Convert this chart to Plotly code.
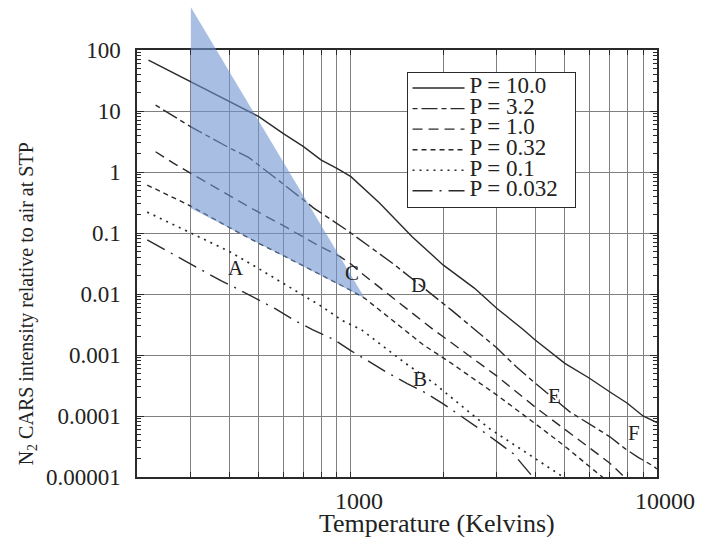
import numpy as np
import plotly.graph_objects as go

# ---------------- data ----------------
pressures = ["10.0", "3.2", "1.0", "0.32", "0.1", "0.032"]

T_p10 = [218, 300, 400, 500, 600, 700, 800, 900, 1000, 1240, 1585, 2000, 2530, 3000,
         3660, 4000, 5000, 6000, 7000, 8000, 9000, 10000]
I_p10 = [68, 30, 14.2, 8.1, 4.3, 2.6, 1.57, 1.15, 0.84, 0.31, 0.087, 0.03, 0.0125, 0.0058,
         0.0026, 0.00176, 0.00073, 0.00042, 0.00025, 0.000162, 0.0001, 7.8e-5]

T_p3_2 = [230, 300, 400, 463, 578, 758, 968, 1150, 1367, 2126, 2623, 3000, 3470, 3985,
          5190, 7000, 7840, 8680, 9750, 10000]
I_p3_2 = [12.5, 5.5, 2.5, 1.74, 0.74, 0.254, 0.112, 0.06, 0.032, 0.0055, 0.0023, 0.0013,
          0.00064, 0.00035, 0.000117, 4.6e-5, 2.95e-5, 2.1e-5, 1.5e-5, 1.35e-5]

T_p1_0 = [230, 263, 300, 400, 463, 622, 758, 922, 1000, 1082, 1400, 1860, 2126, 3000,
          4000, 5000, 6000, 7000, 8000]
I_p1_0 = [2.15, 1.4, 0.95, 0.41, 0.27, 0.12, 0.068, 0.041, 0.031, 0.022, 0.0079, 0.0026,
          0.0016, 0.00045, 0.00014, 6e-5, 3e-5, 1.7e-5, 9e-6]

T_p0_32 = [216, 294, 400, 500, 600, 700, 800, 900, 1000, 1110, 1400, 1726, 2075, 3000,
           4000, 5000, 6000, 6800]
I_p0_32 = [0.61, 0.29, 0.124, 0.068, 0.043, 0.029, 0.0205, 0.0148, 0.0115, 0.0085, 0.0034,
           0.00146, 0.0008, 0.00022, 7.5e-5, 3.2e-5, 1.5e-5, 9e-6]

T_p0_1 = [216, 300, 400, 500, 600, 700, 805, 934, 1082, 1508, 1860, 2825, 4000, 5100]
I_p0_1 = [0.22, 0.1, 0.05, 0.026, 0.015, 0.0097, 0.0062, 0.0037, 0.0026, 0.00073, 0.00035,
          6.3e-5, 2e-5, 9e-6]

T_p0_032 = [216, 247, 324, 376, 425, 499, 564, 654, 748, 878, 993, 1123, 1301, 1527, 1726,
            1996, 2265, 2660, 3000, 3396, 4000]
I_p0_032 = [0.077, 0.053, 0.025, 0.0165, 0.0122, 0.008, 0.0058, 0.0037, 0.0026, 0.0018,
            0.0012, 0.00083, 0.00053, 0.00034, 0.00025, 0.00016, 0.000104, 5.9e-5, 3.8e-5,
            2.4e-5, 9e-6]

# shaded region (temperature, intensity)
shade_T = [300, 300, 1110]
shade_I = [500, 0.255, 0.0085]

# letter labels
labels = ["A", "B", "C", "D", "E", "F"]
label_T = [420, 1685, 1010, 1665, 4620, 8437]
label_I = [0.0264, 0.00041, 0.022, 0.014, 0.00021, 5.2e-5]

# axis ticks
x_tickvals = [1000, 10000]
x_ticktext = ["1000", "10000"]
x_minor_grid = [200, 300, 400, 500, 600, 700, 800, 900, 2000, 3000, 4000, 5000,
                6000, 7000, 8000, 9000]
y_tickvals = [1e-5, 1e-4, 1e-3, 1e-2, 1e-1, 1, 10, 100]
y_ticktext = ["0.00001", "0.0001", "0.001", "0.01", "0.1", "1", "10", "100"]

# ---------------- styling ----------------
X_RANGE = [np.log10(200), 4]
Y_RANGE = [-5, 2]
SERIF = "Liberation Serif"
LINE_COLOR = "#2a2a2a"
GRID_COLOR = "#808080"

series_T = [T_p10, T_p3_2, T_p1_0, T_p0_32, T_p0_1, T_p0_032]
series_I = [I_p10, I_p3_2, I_p1_0, I_p0_32, I_p0_1, I_p0_032]
dashes = ["solid", "5px,4px,16px,4px", "10px,6px", "5px,4px", "2px,5px", "20px,7px,2px,7px"]
widths = [1.4, 1.4, 1.4, 1.4, 1.7, 1.4]

fig = go.Figure()
for p, tx, iy, d, w in zip(pressures, series_T, series_I, dashes, widths):
    fig.add_trace(go.Scatter(
        x=tx, y=iy, mode="lines",
        name='<span style="font-size:23px">P = ' + p + '\u00a0\u00a0</span>',
        line=dict(color=LINE_COLOR, width=w, dash=d),
        hoverinfo="skip",
    ))

# shaded wedge: x in data units, y converted to paper fraction of the log axis
def ypaper(v):
    return (np.log10(v) - Y_RANGE[0]) / (Y_RANGE[1] - Y_RANGE[0])

path = "M " + " L ".join(f"{t},{ypaper(v):.5f}" for t, v in zip(shade_T, shade_I)) + " Z"
fig.add_shape(type="path", path=path, xref="x", yref="paper",
              fillcolor="rgba(110,148,208,0.6)", line=dict(width=0), layer="above")

for lab, t, v in zip(labels, label_T, label_I):
    fig.add_annotation(x=np.log10(t), y=np.log10(v), xref="x", yref="y", text=lab,
                       showarrow=False, font=dict(family=SERIF, size=21, color="#222"))

# axis titles
fig.add_annotation(xref="paper", yref="paper", x=0.577, y=-0.11, text="Temperature (Kelvins)",
                   showarrow=False, xanchor="center", yanchor="middle",
                   font=dict(family=SERIF, size=26, color="#222"))
fig.add_annotation(xref="paper", yref="paper", x=-0.211, y=0.405,
                   text="N<sub>2</sub> CARS intensity relative to air at STP",
                   textangle=-90, showarrow=False, xanchor="center", yanchor="middle",
                   font=dict(family=SERIF, size=20, color="#222"))

y_minor = [k * 10.0 ** n for n in range(-5, 2) for k in range(2, 10)]

fig.update_xaxes(
    type="log", range=X_RANGE,
    tickmode="array", tickvals=x_tickvals, ticktext=x_ticktext,
    showgrid=True, gridcolor=GRID_COLOR, gridwidth=1.4,
    minor=dict(tickmode="array", tickvals=x_minor_grid, showgrid=True,
               gridcolor=GRID_COLOR, gridwidth=1.4, ticks="inside", ticklen=5,
               tickcolor=LINE_COLOR),
    showline=True, linecolor=LINE_COLOR, linewidth=1.5, mirror="ticks",
    ticks="inside", ticklen=5, tickcolor=LINE_COLOR,
    tickfont=dict(family=SERIF, size=24, color="#222"),
    ticklabelstandoff=1, ticklabelshift=8, zeroline=False,
)
fig.update_yaxes(
    type="log", range=Y_RANGE,
    tickmode="array", tickvals=y_tickvals, ticktext=y_ticktext,
    showgrid=True, gridcolor=GRID_COLOR, gridwidth=1.4,
    showline=True, linecolor=LINE_COLOR, linewidth=1.5, mirror="ticks",
    ticks="inside", ticklen=7, tickcolor=LINE_COLOR,
    minor=dict(tickmode="array", tickvals=y_minor, ticks="inside", ticklen=4,
               tickcolor=LINE_COLOR, showgrid=False),
    tickfont=dict(family=SERIF, size=23, color="#222"),
    ticklabelstandoff=10, zeroline=False,
)

fig.update_layout(
    width=707, height=537,
    margin=dict(l=137, r=40, t=50, b=60),
    paper_bgcolor="white", plot_bgcolor="white",
    font=dict(family=SERIF, color="#222"),
    showlegend=True,
    legend=dict(x=0.5183, y=0.949, xanchor="left", yanchor="top",
                bgcolor="white", bordercolor=LINE_COLOR, borderwidth=1,
                font=dict(family=SERIF, size=13.5, color="#222"),
                itemwidth=52, tracegroupgap=0),
)

fig.write_html("out.html")
